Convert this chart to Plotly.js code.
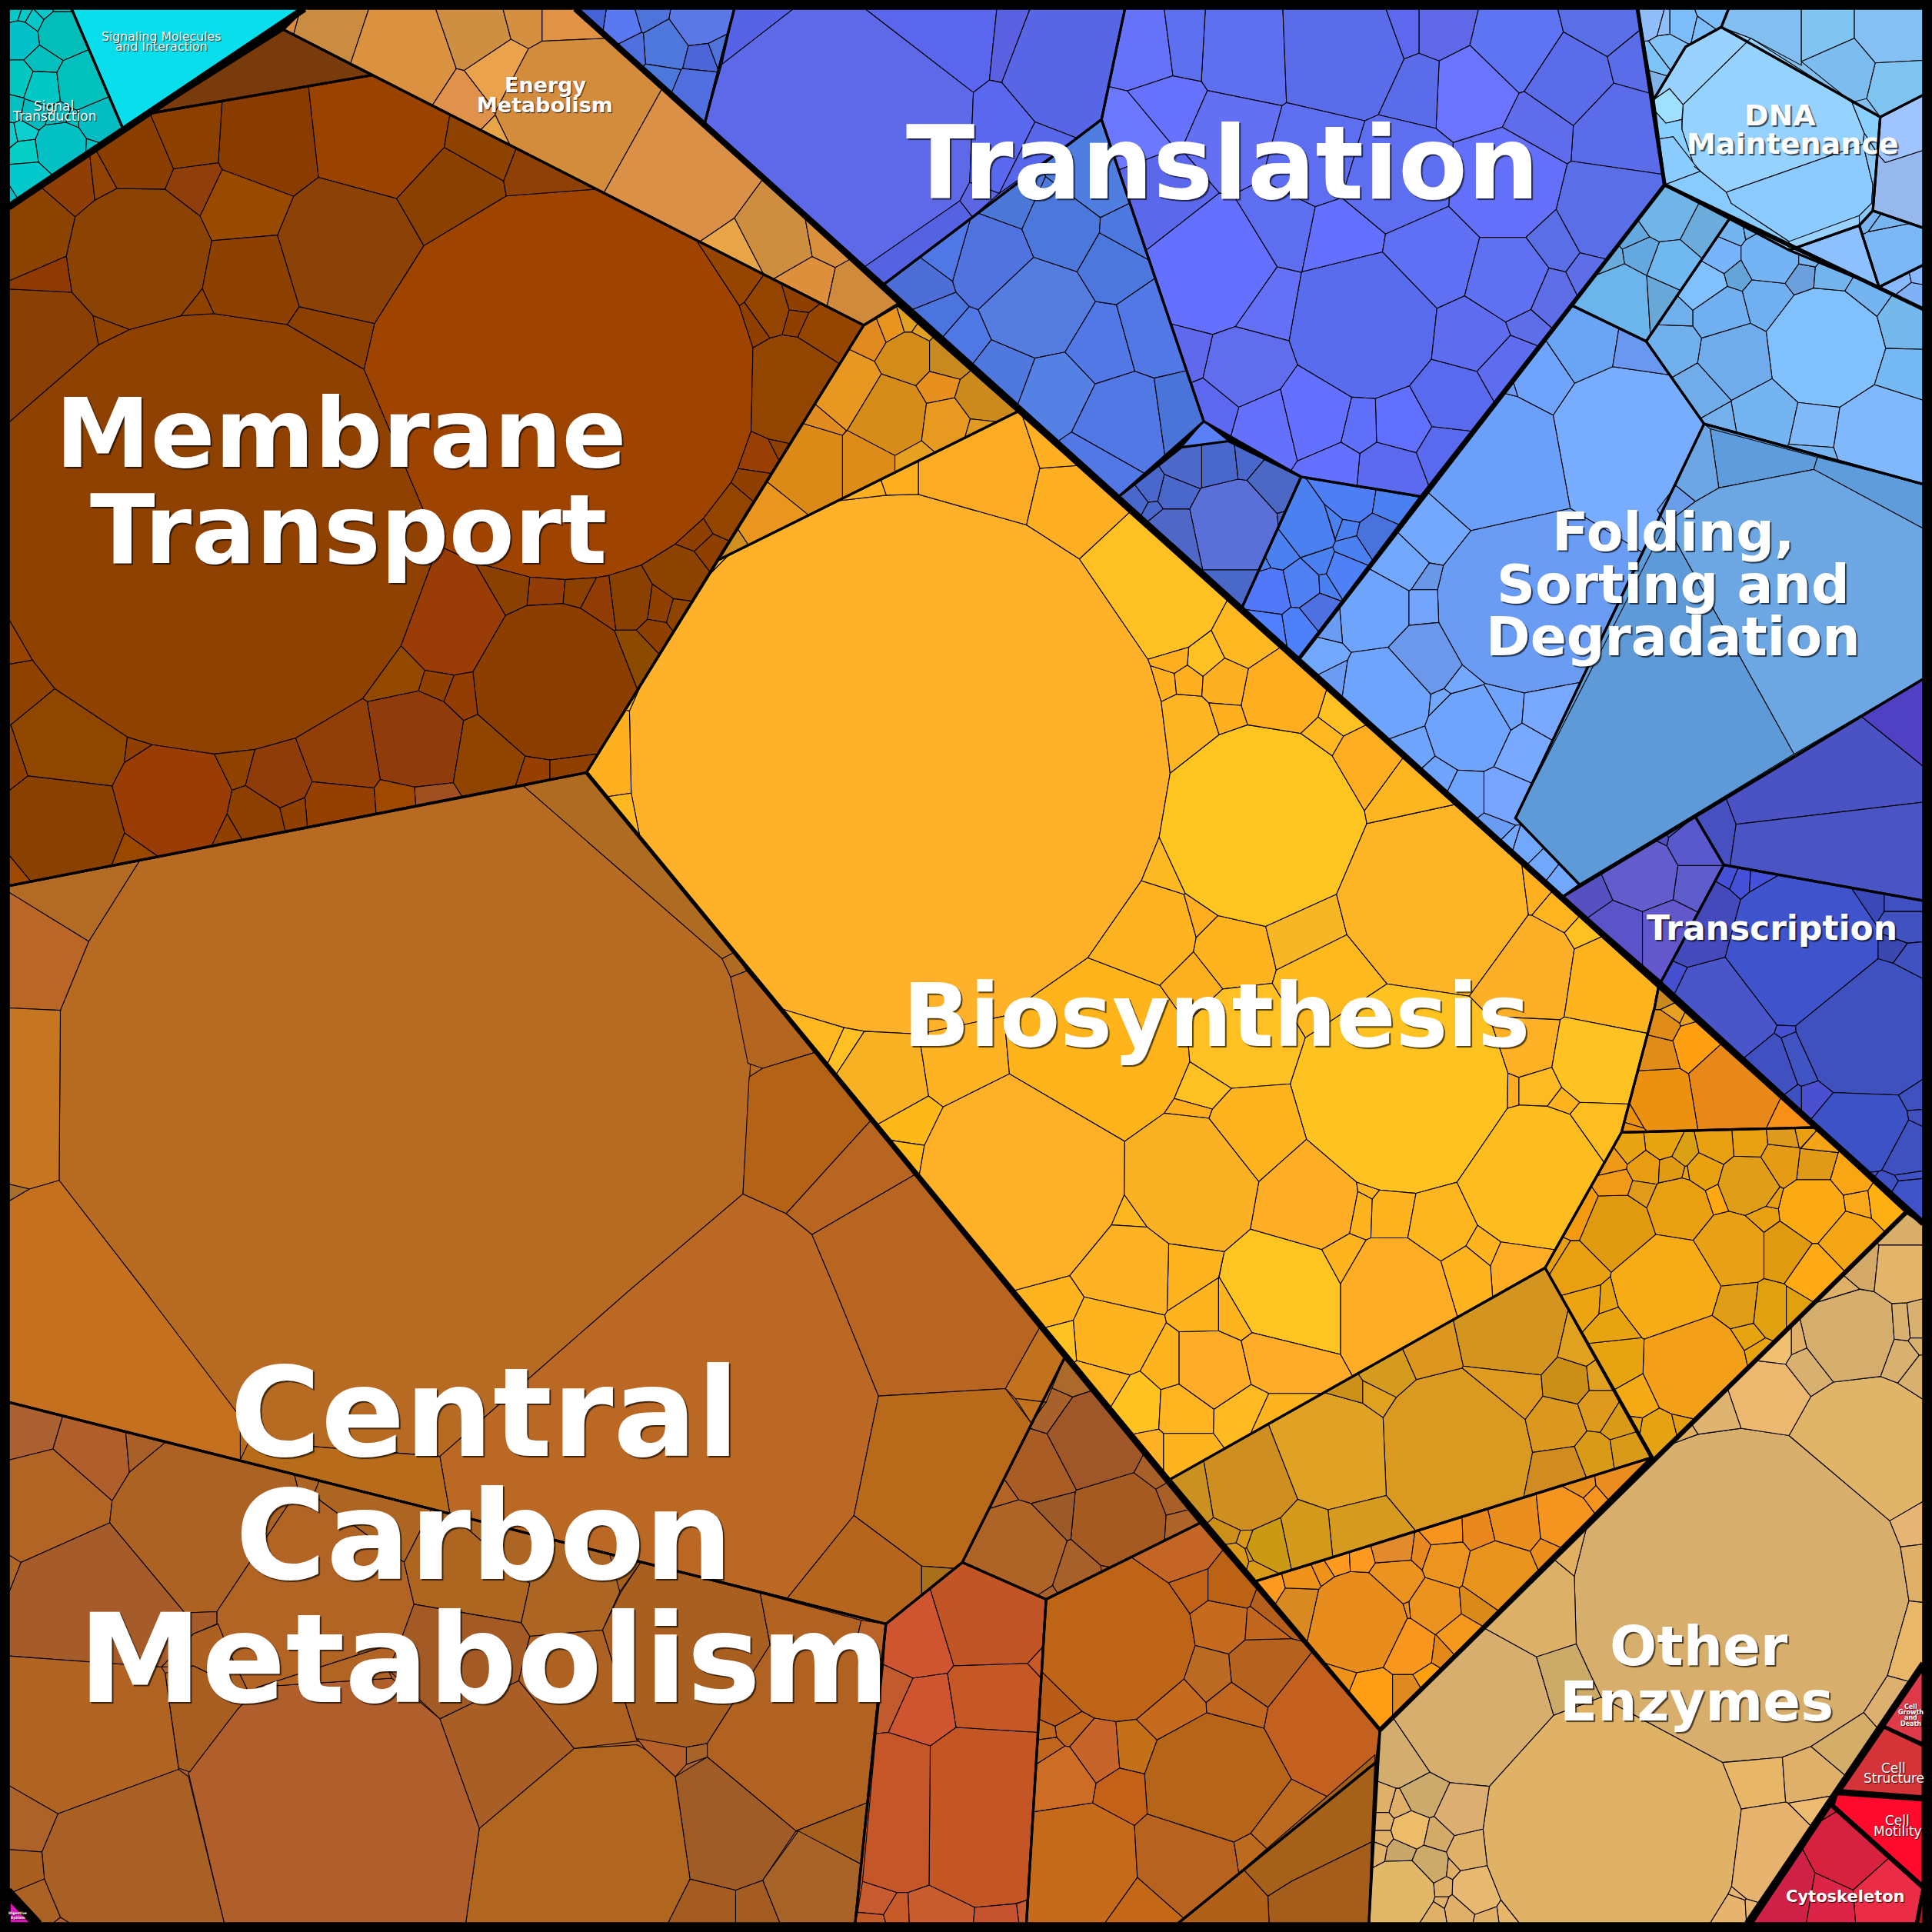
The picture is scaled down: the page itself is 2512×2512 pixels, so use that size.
<!DOCTYPE html>
<html><head><meta charset="utf-8">
<script src="https://cdn.plot.ly/plotly-3.0.1.min.js"></script>
<style>html,body{margin:0;padding:0;background:#000}#c{width:2512px;height:2512px}</style></head>
<body><div id="c"></div>
<script>
// Each region: outline polygon, plus sites as [x, y, inscribed radius, colour].
const signalOutline=[7,7,58,7,100,105,7,168];
const signalSites=[[50,27,18,'#02bdb8'],[17,31,13,'#02c0c8'],[35,50,10,'#03bfbd'],[17,65,11,'#02c8c0'],[34,71,14,'#00c8c4'],[67,67,20,'#02c0bc'],[11,89,8,'#04bfbf'],[27,92,10,'#03bcc0'],[80,98,16,'#03bdc2'],[50,119,20,'#02c0c4'],[21,123,8,'#05cec4'],[9,108,5,'#0bcfcf'],[19,106,7,'#0bcfcf'],[23,148,15,'#03c8cc'],[47,96,7,'#03c0c0'],[58,100,4,'#03c4c4'],[73,120,4,'#03c4c4'],[12,9,5,'#05c8c8'],[21,12,5,'#05c8c8'],[28,16,7,'#05c8c8'],[35,9,6,'#05c8c8'],[50,9,4,'#05c8c8'],[9,157,5,'#04c0c8']];
const membraneOutline=[7,168,122,92,302,61,701,264,476,627,7,719];
const membraneSites=[[172,433,178,'#8e4100'],[456,313,157,'#9e4300'],[112,209,57,'#8b4205'],[217,117,38,'#8a3c00'],[308,107,53,'#9a4200'],[282,203,55,'#8c4207'],[198,168,30,'#994a00'],[203,227,38,'#8e4000'],[158,149,17,'#8f3e0c'],[113,130,26,'#8a3f00'],[153,113,24,'#8c4000'],[362,157,36,'#8a4000'],[383,120,20,'#8e4200'],[443,143,14,'#8f4006'],[267,270,20,'#8c3f00'],[27,190,30,'#8c4200'],[62,150,15,'#8f3f05'],[80,148,8,'#914205'],[37,277,40,'#8a4005'],[40,220,14,'#8f3a05'],[160,247,8,'#8f4200'],[90,267,4,'#8f4200'],[365,505,42,'#993c07'],[444,480,13,'#933c08'],[413,477,14,'#8a4000'],[467,482,8,'#8c4000'],[488,493,14,'#923c05'],[512,490,18,'#8a4000'],[448,553,63,'#8c3e00'],[337,601,37,'#8f3b0b'],[277,611,32,'#923e08'],[397,611,26,'#8f4500'],[325,544,15,'#934800'],[357,554,9,'#8f4000'],[375,561,11,'#933d05'],[227,630,25,'#8f3c0a'],[193,621,10,'#8f4200'],[140,647,45,'#993c05'],[207,661,20,'#8c3f00'],[273,651,24,'#963f03'],[237,654,8,'#8f4000'],[327,647,10,'#a04800'],[342,646,5,'#a05020'],[437,624,6,'#963f00'],[457,624,8,'#8f4000'],[58,604,42,'#8f4600'],[50,671,48,'#8a4000'],[10,620,10,'#8f4000'],[17,554,18,'#8f4200'],[12,525,15,'#984300'],[117,611,5,'#8f4000'],[190,671,5,'#8f4000'],[107,694,5,'#9a4800'],[10,704,8,'#a04800'],[641,317,42,'#924500'],[587,227,18,'#964500'],[624,253,12,'#934400'],[671,270,20,'#964500'],[651,245,5,'#8f4000'],[649,260,4,'#8f4000'],[610,263,6,'#8f4000'],[617,370,12,'#993e05'],[591,417,16,'#934500'],[614,390,6,'#8f4000'],[565,433,5,'#8f4000'],[552,467,18,'#8c4200'],[534,493,12,'#8f4000'],[548,497,8,'#8f4500'],[531,510,8,'#8f4000'],[578,447,5,'#8f4000'],[631,363,4,'#8f4000'],[512,528,12,'#8c4a00']];
const wedgeOutline=[230,24,302,61,122,92];
const energyOutline=[247,7,467,7,730,247,701,264,230,24];
const energySites=[[267,30,30,'#ca8c40'],[327,50,44,'#da9240'],[385,30,30,'#cf8f42'],[423,20,15,'#d49040'],[457,20,15,'#e29244'],[403,57,28,'#eba24c'],[373,80,25,'#e0914c'],[460,87,55,'#d38b3c'],[555,140,42,'#da9147'],[633,197,22,'#cd8e40'],[671,190,12,'#da8f3c'],[652,230,14,'#dd8f3c'],[699,240,18,'#d08a3c'],[604,212,3,'#e8a548'],[241,23,10,'#da8a40'],[252,14,7,'#dea540'],[257,28,8,'#eba24c'],[407,113,5,'#e8a548']];
const amberOutline=[701,264,728,247,826,334,582,455];
const amberSites=[[709,273,8,'#e08a20'],[724,267,9,'#e8951e'],[737,263,5,'#e0a020'],[747,270,5,'#e0a020'],[737,290,20,'#d48c18'],[767,290,16,'#c88a20'],[761,313,12,'#e8901e'],[688,317,26,'#e89820'],[721,337,30,'#d68c18'],[767,343,18,'#e89a20'],[794,323,15,'#cc8a1c'],[791,350,3,'#e09a20'],[657,373,28,'#db8a18'],[702,373,20,'#dd8c1a'],[666,343,10,'#e08c20'],[741,373,5,'#e8a020'],[617,423,18,'#e8961e'],[596,437,4,'#d09020']];
const bioOutline=[476,627,582,455,826,334,1346,801,1343,817,1316,919,1254,1029,949,1201];
const bioSites=[[730,620,218,'#feb129'],[497,625,12,'#feb020'],[503,665,10,'#ffb81f'],[525,530,8,'#feba22'],[545,490,6,'#fec022'],[935,480,52,'#fec022'],[795,390,45,'#fbab24'],[867,407,28,'#ffb022'],[864,367,10,'#ffb022'],[724,390,3,'#feb020'],[704,397,10,'#feb020'],[574,467,10,'#fec022'],[664,841,14,'#ffb81f'],[688,852,6,'#fec022'],[717,871,32,'#f8b122'],[781,861,30,'#fdb322'],[741,914,10,'#feb818'],[737,941,9,'#feb818'],[891,851,70,'#feb41a'],[829,957,82,'#feb026'],[943,707,18,'#fdb922'],[927,757,42,'#fdb420'],[973,744,11,'#ffae20'],[1000,771,28,'#ffb31f'],[967,797,20,'#fcb020'],[1023,670,80,'#fec521'],[1062,756,30,'#f7b623'],[1163,730,75,'#feb525'],[1145,647,26,'#feb620'],[1108,620,24,'#feae20'],[1040,565,30,'#ffae20'],[961,591,26,'#fdb524'],[944,556,7,'#feb020'],[964,554,7,'#feb020'],[977,536,6,'#ffc022'],[994,556,15,'#feb023'],[992,581,9,'#feb020'],[951,534,6,'#feb020'],[1010,520,14,'#feb822'],[1073,600,8,'#ffb820'],[1088,580,8,'#fec022'],[1240,786,37,'#fbb027'],[1307,796,35,'#feb41f'],[1267,736,10,'#ffb420'],[1289,756,5,'#ffc022'],[1247,719,8,'#feb020'],[1237,852,20,'#ffb125'],[1294,862,30,'#fec322'],[1292,921,22,'#ffbe20'],[1247,885,14,'#feba22'],[1140,884,84,'#fec320'],[1082,796,38,'#feb91f'],[1008,841,38,'#fec022'],[1014,921,35,'#feb41f'],[978,888,8,'#fec022'],[973,906,6,'#ffae20'],[1062,975,40,'#ffae25'],[1103,983,14,'#feb41f'],[1131,984,20,'#feb41f'],[1169,991,27,'#feb61f'],[1244,955,58,'#febd1f'],[1111,968,4,'#feb41f'],[1224,885,8,'#ffae20'],[1264,898,5,'#feb41f'],[1088,1020,15,'#feb41f'],[1131,1045,40,'#ffad25'],[1204,1011,10,'#feb41f'],[1234,1024,20,'#ffad25'],[1191,1027,12,'#feb41f'],[1042,1045,43,'#fec522'],[967,958,52,'#fbb124'],[916,994,14,'#feb81f'],[957,1028,12,'#feb41f'],[914,1027,35,'#feb324'],[901,1085,30,'#feb41f'],[891,1122,20,'#ffb424'],[924,1142,20,'#fec320'],[961,1144,22,'#ffb420'],[1006,1145,18,'#feba20'],[984,1112,30,'#ffac28'],[1028,1102,20,'#ffad28'],[951,1112,14,'#feb41f'],[858,1065,6,'#feb41f'],[864,1088,12,'#fec322'],[931,1178,15,'#ffb024'],[961,1178,18,'#feb41f'],[983,1068,6,'#feb41f'],[1003,1068,14,'#feb41f'],[1028,1155,12,'#feb41f']];
const orangeOutline=[1346,801,1473,915,1316,919,1343,817];
const orangeSites=[[1408,882,35,'#e88818'],[1348,892,25,'#ec9010'],[1376,847,18,'#ffa012'],[1346,855,15,'#e08c18'],[1351,834,12,'#e08c18'],[1456,905,8,'#f89018'],[1358,824,7,'#e8a020'],[1351,809,6,'#c88a20'],[1326,905,8,'#ec9010'],[1371,830,6,'#e8a020'],[1323,915,3,'#ec9010']];
const goldOutline=[1316,919,1473,915,1547,984,1342,1184,1254,1029];
const goldSites=[[1313,998,28,'#e09a10'],[1363,981,25,'#e8a012'],[1418,961,23,'#e09e18'],[1404,1014,28,'#e8a014'],[1472,981,25,'#fbaa14'],[1449,1014,18,'#e09a10'],[1499,1004,20,'#f4a614'],[1472,1030,16,'#ffaa14'],[1507,976,9,'#f8a818'],[1530,973,12,'#feb012'],[1503,955,14,'#faa614'],[1472,946,14,'#e09a18'],[1446,943,15,'#e59c14'],[1419,928,12,'#e8a010'],[1393,930,13,'#e8a010'],[1366,936,10,'#daa014'],[1350,928,13,'#e8a410'],[1336,948,12,'#e89c14'],[1356,949,11,'#e09a14'],[1383,951,14,'#e8a210'],[1371,953,6,'#e8a210'],[1323,931,10,'#e8a412'],[1312,961,10,'#f09a18'],[1308,943,8,'#f09818'],[1333,968,9,'#e09a1c'],[1393,971,8,'#ffa810'],[1429,986,6,'#e8a010'],[1432,971,6,'#e8a010'],[1466,921,6,'#e8a010'],[1448,925,9,'#de9a1c'],[1474,928,8,'#f4a414'],[1280,1031,18,'#e8a010'],[1280,984,16,'#f49a10'],[1264,1021,5,'#e8a010'],[1353,1045,42,'#f7ac15'],[1375,1108,42,'#f3a018'],[1409,1062,18,'#e09e18'],[1436,1065,15,'#e0a010'],[1414,1083,12,'#e8a310'],[1423,1098,5,'#e8a310'],[1451,1065,6,'#e0a010'],[1313,1106,22,'#e8a410'],[1310,1078,16,'#e8a410'],[1287,1057,13,'#eca410'],[1303,1058,8,'#e8a410'],[1327,1131,17,'#f4aa14'],[1347,1165,16,'#e5a314'],[1363,1161,9,'#e49d10'],[1323,1161,8,'#e8a410']];
const olive=[949,1201,1254,1029,1340,1183,1017,1284];
const oliveSites=[[1181,1174,60,'#da9920'],[1082,1178,45,'#e0a224'],[1226,1081,42,'#d39520'],[1161,1095,20,'#dd9620'],[1125,1111,18,'#d49b1e'],[1221,1125,30,'#df9a20'],[1262,1156,22,'#da981e'],[1270,1121,18,'#cb8f18'],[1267,1191,18,'#d08c20'],[1297,1144,13,'#de9a1c'],[1293,1181,14,'#d99a18'],[1279,1093,14,'#e0a020'],[1297,1118,6,'#e0a020'],[1320,1177,10,'#d89a18'],[1313,1154,10,'#d89a18'],[1098,1243,22,'#d69a1e'],[1058,1247,25,'#d49a1c'],[1115,1131,8,'#e0a020'],[1095,1131,10,'#cc9018'],[1013,1205,38,'#cf8e20'],[972,1212,22,'#cb9120'],[1034,1252,22,'#ca9a14'],[997,1239,12,'#cc9018'],[1014,1245,10,'#d89a18'],[1021,1259,8,'#d89a18'],[1001,1265,10,'#d89a18'],[1024,1272,8,'#d89a18']];
const tangerineOutline=[1017,1284,1340,1183,1120,1404];
const tangerineSites=[[1102,1317,40,'#e88c1e'],[1217,1277,28,'#e8941c'],[1174,1267,18,'#ec9420'],[1163,1303,20,'#ec921e'],[1141,1336,22,'#f9961e'],[1133,1283,20,'#ec921e'],[1131,1257,16,'#e28b2c'],[1154,1260,9,'#e88820'],[1172,1244,14,'#f5941e'],[1203,1243,15,'#e8881e'],[1229,1237,22,'#ea8f1e'],[1269,1233,22,'#f5941e'],[1285,1204,8,'#e8901e'],[1310,1201,14,'#ea8c20'],[1295,1214,5,'#f5941e'],[1222,1214,8,'#f5941e'],[1257,1260,8,'#ea8e1e'],[1201,1300,12,'#d98a18'],[1184,1329,14,'#f5981e'],[1172,1340,8,'#e28818'],[1158,1363,8,'#ffa010'],[1142,1305,6,'#e8901e'],[1113,1373,18,'#ff9e14'],[1141,1373,12,'#de8a20'],[1088,1363,12,'#ee921a'],[1057,1307,18,'#d88a20'],[1027,1288,8,'#ff9a20'],[1058,1280,10,'#ee921a'],[1085,1265,8,'#ff9a20'],[1105,1264,7,'#ff9a20'],[1071,1274,5,'#ee921a']];
const carbonCells=[['#b66a22',[113,699,425,638,586,778,593,793,609,864,603,969,510,1048,357,1182,202,1170,117,1047,48,958,49,820,72,764]],['#b26a24',[7,719,113,699,72,764,7,724]],['#b96626',[7,724,72,764,49,820,7,818]],['#c67520',[7,818,49,820,48,958,24,965,7,961]],['#a8702a',[7,961,24,965,7,975]],['#c5701f',[7,975,24,965,48,958,117,1047,195,1150,195,1185,7,1138]],['#b06b22',[425,638,476,627,596,773,586,778]],['#b06b22',[586,778,593,793,606,788,596,773]],['#b46520',[593,793,606,788,662,854,619,867,607,863]],['#b46316',[608,874,619,867,662,854,707,909,638,985,603,969]],['#b96522',[662,854,596,773,707,909]],['#b96522',[707,909,743,953,659,1002,638,985]],['#bb6824',[603,969,638,985,659,1002,678,1047,713,1133,693,1230,639,1297,365,1228,357,1182,510,1048]],['#b96522',[659,1002,743,953,844,1077,816,1127,713,1133,678,1047]],['#b9691a',[816,1127,837,1155,781,1268,775,1273,748,1271,693,1230,713,1133]],['#b5651e',[693,1230,748,1271,748,1294,719,1318,639,1297]],['#a87018',[748,1271,775,1273,748,1294]],['#c2721c',[816,1127,844,1077,864,1102,849,1138,824,1135]],['#c2721c',[824,1135,849,1138,837,1155]],['#b86c1a',[202,1170,357,1182,365,1228,195,1185]]];
const carbonEdge=[7,719,476,627,864,1102,781,1268,719,1318,7,1138];
const carbonLowerCells=[['#aa6030',[7,1138,51,1149,43,1176,7,1185]],['#b05f2c',[51,1149,102,1162,105,1195,91,1218,43,1176]],['#a86028',[102,1162,135,1170,105,1195]],['#b26424',[7,1185,43,1176,91,1218,89,1236,17,1268,7,1262]],['#ab6222',[135,1170,239,1197,242,1209,176,1308,150,1309,89,1236,91,1218,105,1195]],['#ac6524',[239,1197,259,1202,255,1212,242,1209]],['#ac6622',[259,1202,350,1225,328,1268,260,1218,255,1212]],['#b26424',[260,1218,328,1268,336,1302,325,1332,210,1369,202,1374,188,1345,176,1318,176,1308,242,1209,255,1212]],['#ae6520',[350,1225,365,1228,430,1285,423,1317,336,1302,328,1268]],['#ac6522',[365,1228,500,1263,503,1292,489,1323,430,1328,423,1317,430,1285]],['#a86018',[495,1262,520,1268,503,1292]],['#a85f20',[520,1268,617,1293,625,1335,574,1415,557,1418,517,1413,489,1323,504,1292]],['#b16220',[617,1293,699,1315,696,1328,716,1348,711,1407,704,1463,646,1486,574,1426,574,1415,625,1335]],['#ba6328',[699,1315,719,1318,716,1348,696,1328]],['#a65f1c',[646,1486,704,1463,699,1513]],['#a86428',[648,1486,699,1513,694,1561,633,1561,619,1526]],['#a55c20',[619,1526,633,1561,597,1561,597,1534]],['#a65c20',[597,1534,597,1561,542,1561,560,1525]],['#a05c26',[548,1442,574,1426,646,1486,619,1526,597,1534,560,1525]],['#a86428',[557,1418,574,1415,574,1426,557,1432]],['#b46028',[517,1411,557,1418,557,1432,548,1442,524,1420]],['#b16620',[466,1419,517,1416,524,1420,548,1442,560,1525,542,1561,378,1561,389,1484]],['#a85e24',[357,1395,421,1364,466,1419,389,1484]],['#a45a24',[336,1302,423,1317,430,1328,421,1364,357,1395,315,1355,325,1332]],['#ad6222',[430,1328,489,1323,517,1413,466,1419,421,1364]],['#b05e2c',[193,1387,210,1369,318,1362,357,1395,389,1484,378,1561,182,1561,153,1439]],['#b26424',[210,1369,325,1332,315,1355,318,1362]],['#a65c2a',[89,1236,150,1309,176,1308,176,1318,157,1326,131,1353,100,1351,7,1344,7,1293,17,1268]],['#b06620',[7,1262,17,1268,7,1293]],['#ac6022',[157,1326,177,1318,188,1345,202,1374,157,1352,131,1353]],['#a85e20',[134,1358,157,1352,202,1374,210,1369,193,1387,154,1438,145,1435]],['#b16322',[7,1344,100,1351,131,1353,134,1358,145,1436,47,1472,7,1449]],['#a86024',[47,1472,145,1436,153,1442,182,1561,57,1561,49,1556,36,1525,34,1503]],['#ac6228',[7,1449,47,1472,34,1503,7,1502]],['#a95f20',[7,1501,34,1503,36,1525,7,1537]],['#ad6225',[7,1537,36,1525,49,1556,43,1561,32,1561]]];
const carbonLowerEdge=[7,1138,719,1318,694,1561,32,1561,7,1534];
const redCells=[['#c15525',[781,1268,849,1298,846,1337,834,1350,774,1352,755,1290]],['#cf5530',[755,1290,774,1352,769,1358,741,1362,717,1351,719,1318]],['#c15a2c',[717,1351,741,1362,721,1406,711,1407]],['#ce5530',[769,1358,776,1402,755,1417,721,1406,741,1362]],['#c65825',[774,1352,834,1350,845,1362,842,1406,776,1402,769,1358]],['#c85a28',[834,1350,846,1337,845,1362]],['#c45625',[776,1402,842,1406,834,1542,824,1545,791,1548,754,1530,755,1417]],['#c45628',[721,1406,755,1417,754,1530,737,1536,728,1536,700,1527,711,1407]],['#c85a30',[700,1527,728,1536,717,1554,696,1552]],['#c45a28',[717,1554,696,1552,694,1561,719,1561]],['#c65a28',[728,1536,737,1536,738,1561,719,1561,717,1554]],['#c95c2e',[737,1536,754,1530,791,1548,790,1561,738,1561]],['#c5532e',[791,1548,825,1545,827,1561,790,1561]],['#c75a30',[825,1545,834,1542,833,1561,827,1561]]];
const redEdge=[781,1268,849,1298,833,1561,694,1561,719,1318];
const sepiaOutline=[864,1102,974,1236,849,1298,781,1268];
const sepiaSites=[[888,1169,38,'#9f5628'],[908,1235,38,'#a55a22'],[844,1192,28,'#a95c24'],[824,1259,40,'#ae6426'],[854,1230,18,'#9c5a28'],[873,1275,20,'#a8602a'],[811,1215,10,'#b46426'],[858,1148,16,'#a8612a'],[871,1118,12,'#ab692c'],[951,1218,10,'#a86028'],[956,1238,10,'#ae6428'],[846,1293,4,'#a86028'],[938,1195,5,'#a86028'],[901,1272,5,'#a86028']];
const rustOutline=[849,1298,974,1236,1120,1404,1117,1430,956,1561,833,1561];
const rustSites=[[906,1332,62,'#bd6416'],[984,1445,52,'#b56418'],[958,1257,26,'#c56525'],[991,1318,22,'#c66a20'],[969,1288,16,'#c06218'],[997,1288,20,'#bc6214'],[1021,1353,23,'#b4621e'],[981,1357,18,'#bb6a24'],[1001,1382,14,'#c0661e'],[891,1422,20,'#c6642a'],[916,1420,14,'#c47018'],[909,1450,12,'#c46018'],[863,1442,22,'#cd6c24'],[857,1382,18,'#b85c18'],[868,1402,10,'#c0661c'],[951,1385,22,'#c66a1e'],[1075,1396,40,'#c4601f'],[874,1515,48,'#c56a1a'],[963,1510,40,'#b86220'],[926,1552,25,'#c46818'],[1014,1502,10,'#bb6a20'],[1033,1482,16,'#bb6a20'],[847,1405,8,'#c0661c'],[849,1420,10,'#c0661c'],[1034,1302,15,'#b4601c'],[1020,1320,12,'#c0661e']];
const umberCells=[['#a5601a',[1116,1424,1113,1495,1048,1527,1029,1539,1009,1517]],['#a55d1c',[1113,1495,1111,1561,1030,1561,1029,1539,1048,1527]],['#b06018',[1009,1517,1029,1539,1030,1561,956,1561]]];
const umberEdge=[1117,1430,1111,1561,956,1561];
const enzymeOutline=[1120,1404,1547,984,1561,993,1561,1350,1418,1561,1111,1561];
const enzymeSites=[[1413,1295,135,'#d7ae6b'],[1309,1489,105,'#dfb265'],[1194,1385,62,'#d8ae6e'],[1241,1300,38,'#ddb067'],[1512,1178,60,'#e1b568'],[1501,1086,36,'#d5ae6d'],[1437,1136,30,'#ecb870'],[1393,1151,16,'#dfb470'],[1469,1111,18,'#d8b070'],[1462,1095,7,'#e0b068'],[1442,1095,11,'#f0c070'],[1542,1101,14,'#d8b070'],[1544,1083,6,'#d8b070'],[1555,1082,5,'#d8b070'],[1555,1091,6,'#d8b070'],[1555,1111,9,'#d8b070'],[1548,1240,14,'#e6b474'],[1552,1273,18,'#dfb068'],[1545,1333,28,'#e8b868'],[1534,1373,8,'#ddb070'],[1426,1442,24,'#e7b666'],[1467,1439,22,'#deb06a'],[1436,1505,40,'#e7b26e'],[1472,1469,10,'#ecbb70'],[1489,1413,20,'#d4ae68'],[1406,1549,10,'#e6b46e'],[1411,1535,5,'#e6b46e'],[1423,1548,5,'#e6b46e'],[1262,1365,7,'#ccaa68'],[1274,1260,7,'#e0b060'],[1366,1168,5,'#e0b060'],[1138,1423,25,'#d3ad6e'],[1186,1471,20,'#dcae72'],[1156,1457,16,'#ccaa6c'],[1145,1485,15,'#ecbc68'],[1168,1490,13,'#d4aa68'],[1137,1503,11,'#c8a66c'],[1161,1513,15,'#ccaa6a'],[1193,1502,18,'#dfb068'],[1138,1535,26,'#e0b868'],[1199,1533,20,'#e6b870'],[1137,1467,8,'#e0b068'],[1123,1463,6,'#e0b068'],[1123,1479,6,'#e0b068'],[1123,1492,6,'#e0b068'],[1120,1500,4,'#e0b068'],[1171,1532,7,'#e0b068'],[1171,1545,5,'#e0b068'],[1184,1550,12,'#e0b068'],[1166,1553,8,'#e0b068'],[1230,1552,14,'#e8b66a'],[1207,1555,8,'#e0b068'],[1179,1515,7,'#e0b068'],[1490,1050,6,'#dfb068'],[1541,1001,12,'#d8ae6a'],[1512,1024,12,'#d4a866'],[1541,1027,18,'#e3b56b']];
const growthEdge=[1560.6,1354.5,1560.6,1415,1529,1401];
const structureEdge=[1529,1402,1560.6,1417,1560.6,1458,1494,1453];
const motilityEdge=[1491,1456,1560.6,1461,1560.6,1530,1488,1465];
const cytoCells=[['#c8203f',[1486,1465,1491,1470,1476,1479]],['#d6223f',[1491,1470,1533,1508,1504,1534,1473,1520,1463,1501,1476,1479]],['#cf2045',[1463,1501,1473,1520,1466,1561,1422,1561]],['#dc2448',[1473,1520,1504,1534,1506,1561,1466,1561]],['#ea2c46',[1504,1534,1533,1508,1560.6,1532,1555,1561,1506,1561]],['#a01818',[1560.6,1542,1560.6,1561,1557,1561]]];
const cytoEdge=[1486,1465,1560.6,1532,1555,1561,1422,1561];
const digestiveEdge=[7.7,1542,7.7,1561,25.6,1561];
const seaBlueOutline=[467,7,596,7,572,100];
const seaBlueSites=[[566,20,18,'#5b79e6'],[541,38,17,'#4f78dc'],[569,45,12,'#4c66d8'],[537,63,10,'#4c78dc'],[566,75,18,'#506ede'],[577,42,8,'#4e74dc'],[503,20,13,'#5a78f0'],[483,17,8,'#4563d8'],[513,40,8,'#5070e0'],[527,13,5,'#4e74dc']];
const indigoCells=[['#5e69e8',[586,52,644,7,702,7,790,75,787,148,779,163,701,217,572,100]],['#5763e6',[596,7,644,7,586,52]],['#5a66ee',[702,7,809,7,803,65,790,75]],['#5a60e0',[809,7,836,7,813,67,803,65]],['#5866e6',[836,7,913,7,894,97,874,112,840,99,813,67]],['#5a68f0',[803,65,813,67,840,99,811,157,787,148,790,75]],['#5866ea',[840,99,874,112,811,157]],['#5a66e4',[787,148,811,157,789,176,779,163]],['#5562e2',[701,217,779,163,789,176,717,231]]];
const indigoEdge=[596,7,913,7,894,97,717,231,572,100];
const azureOutline=[717,231,894,97,977,342,908,403];
const azureSites=[[841,250,42,'#557de0'],[806,213,34,'#5073e0'],[861,190,30,'#4c78dc'],[771,203,22,'#5077e6'],[821,172,12,'#4b78d8'],[854,315,30,'#5580e4'],[819,302,26,'#4e78de'],[751,230,18,'#4c6ed6'],[891,280,26,'#5278e8'],[938,267,28,'#5278e6'],[901,213,24,'#4c78de'],[912,193,18,'#4c78e0'],[891,150,20,'#4f7ee0'],[911,343,34,'#5278e6'],[954,337,20,'#4a74d8'],[894,373,22,'#5278e6'],[784,275,14,'#5078e4'],[761,255,14,'#4c74de'],[859,220,5,'#5a82f0']];
const violetOutline=[913,7,1329,7,1351,150,1153,403,1056,387,977,342,894,97];
const violetSites=[[1108,263,58,'#5a6cee'],[984,220,48,'#6470ff'],[1011,297,32,'#606eee'],[1031,343,26,'#6570fc'],[984,330,18,'#5d68f0'],[967,287,14,'#6068ee'],[1024,248,26,'#6470f6'],[934,43,24,'#6672fa'],[1011,43,35,'#5e70f0'],[948,85,22,'#6672fe'],[918,110,24,'#6c78ff'],[957,40,20,'#5d70f0'],[998,107,28,'#6470f4'],[937,160,32,'#5c68ec'],[1038,187,20,'#5e6ef0'],[1088,40,48,'#5a6cea'],[1171,23,18,'#6068e8'],[1135,23,15,'#5e68ee'],[1230,37,32,'#5f74f4'],[1300,20,20,'#5a6ee8'],[1196,72,30,'#6a74fe'],[1153,70,16,'#5a6cea'],[1274,66,32,'#5a6cea'],[1327,53,16,'#5a6ce8'],[1313,103,32,'#5a6cea'],[1303,172,36,'#5a6ee8'],[1221,152,42,'#6470fa'],[1251,99,20,'#5f6cec'],[1261,195,18,'#5a6ee6'],[1135,146,40,'#5e6ef0'],[1068,126,30,'#5e6ef0'],[1092,198,26,'#6470ff'],[1163,210,38,'#6070f4'],[1221,225,34,'#6070f2'],[1191,272,30,'#5e6cf0'],[1251,238,16,'#5e6ee8'],[1219,298,20,'#5e6cf0'],[1178,321,28,'#5a6aee'],[1138,343,22,'#6270ff'],[1103,344,15,'#6070fa'],[1173,364,18,'#5a6aee'],[1128,381,20,'#5c6af0'],[1083,377,12,'#6470ff'],[1065,335,30,'#6470ff'],[1236,255,8,'#5e6ee8'],[1292,218,5,'#5e6ee8']];
const slateOutline=[908,403,959,363,997,358,1056,387,1008,493];
const slateSites=[[1001,427,37,'#5a70d8'],[954,437,25,'#4f68c8'],[989,377,17,'#4a68cc'],[964,377,15,'#4f68cc'],[1008,375,10,'#4a68cc'],[1034,397,20,'#4a68c4'],[954,402,13,'#4a68cc'],[934,397,8,'#4a68cc'],[1001,472,14,'#4a68c8'],[921,407,8,'#4a68cc'],[936,415,4,'#4a68cc'],[1041,423,8,'#4a68cc']];
const tinyBlue=[977,342,997,358,959,363];
const cobaltOutline=[1056,387,1153,403,1054,535,1008,493];
const cobaltSites=[[1063,430,18,'#4a80f0'],[1097,406,16,'#4d7ef4'],[1128,411,10,'#4a80f0'],[1118,434,14,'#4a72dc'],[1098,447,8,'#4a80f0'],[1093,428,4,'#4a80f0'],[1091,464,13,'#4f80f8'],[1055,475,16,'#4f80f4'],[1072,457,7,'#4a80f0'],[1075,474,5,'#4a80f0'],[1068,493,10,'#4f70e0'],[1052,506,9,'#4f80fc'],[1082,424,5,'#4a80f0'],[1031,480,18,'#5078f8'],[1027,510,14,'#5080ff'],[1037,450,10,'#4a80f0'],[1024,457,5,'#4a80f0']];
const skyOutline=[1351,150,1404,177,1336,277,1276,248];
const skySites=[[1313,245,28,'#6cb4ec'],[1352,170,22,'#70b4e8'],[1383,186,14,'#6cacdc'],[1357,216,16,'#70b8f0'],[1345,243,15,'#68a8d8'],[1333,207,8,'#64a8e0'],[1300,212,12,'#68acdc'],[1325,189,4,'#64a8e0']];
const paleOutline=[1404,177,1561,251,1561,393,1383,344,1336,277];
const paleSites=[[1481,282,48,'#80c0fc'],[1410,291,30,'#70acec'],[1383,232,18,'#80c0fc'],[1399,255,22,'#70b0f0'],[1434,246,20,'#70b0f0'],[1438,209,22,'#74b4f4'],[1396,209,12,'#78b4fc'],[1409,225,8,'#64a4d8'],[1406,185,6,'#74b4f0'],[1423,182,5,'#74b4f0'],[1461,225,10,'#6ca0dc'],[1486,227,12,'#74b4ec'],[1512,243,14,'#74b4f0'],[1464,209,5,'#74b4f0'],[1543,265,18,'#74b8ec'],[1542,301,18,'#74b8f4'],[1433,334,24,'#74b4f0'],[1474,343,18,'#80b8f8'],[1526,351,36,'#7fb8fc'],[1380,318,20,'#70acea'],[1360,283,17,'#70b0ec'],[1393,341,10,'#74b0ec'],[1472,370,5,'#74b4f0'],[1361,255,4,'#70b0ec']];
const foldOutline=[1276,248,1336,277,1383,344,1230,664,1282,718,1268,728,1054,535];
const foldSites=[[1320,354,55,'#78acff'],[1211,374,55,'#6aa0fa'],[1237,490,70,'#6a9cf4'],[1287,278,24,'#6aa4f4'],[1247,305,20,'#6ea4fc'],[1330,285,18,'#6a98f0'],[1161,430,24,'#74a8fc'],[1135,457,22,'#72a8fc'],[1115,493,30,'#6ea4fc'],[1154,470,8,'#6a98e8'],[1154,493,14,'#72a4fc'],[1227,311,5,'#6a9cf4'],[1078,496,15,'#6a9cf4'],[1125,564,35,'#6ea4fc'],[1078,557,12,'#6a9cf4'],[1194,590,32,'#6ea4fc'],[1237,610,20,'#78a8ff'],[1141,608,14,'#6ea4fc'],[1173,569,9,'#72a8fc'],[1216,577,18,'#6ea4fc'],[1184,554,12,'#74a8ff'],[1158,534,28,'#6c98ec'],[1254,580,16,'#78a8ff'],[1221,647,18,'#76a4ff'],[1191,647,15,'#6ea4fc'],[1166,635,8,'#6ea4fc'],[1211,673,10,'#6a9cf4'],[1237,690,9,'#72a8fc'],[1224,686,5,'#72a8fc'],[1250,703,7,'#72a8fc'],[1267,716,6,'#72a8fc'],[1068,537,10,'#72a8fc']];
const steelCells=[['#5f9cdb',[1388,348,1475,371,1472,381,1395,396]],['#5f9cdb',[1475,371,1561,393,1561,429,1472,381]],['#6ca6e4',[1383,344,1388,348,1395,396,1376,407,1360,394]],['#6a9cec',[1360,394,1376,407,1352,425,1345,414]],['#6ca7e4',[1395,396,1472,381,1561,429,1561,551,1456,612,1352,425,1376,407]],['#5e9ad8',[1352,425,1456,612,1282,718,1230,664]]];
const steelEdge=[1383,344,1561,393,1561,551,1282,718,1230,664];
const transcriptACells=[['#4750c0',[1376,663,1401,648,1409,669,1404,703,1399,702]],['#4a52c4',[1401,648,1510,581,1561,622,1561,651,1409,669]],['#5040c4',[1510,581,1561,551,1561,622]],['#4a54c4',[1409,669,1561,651,1561,731,1404,703]]];
const transcriptAEdge=[1376,663,1561,551,1561,731,1399,702];
const purpleOutline=[1268,728,1376,663,1399,702,1348,797];
const purpleSites=[[1333,710,30,'#625ccc'],[1376,716,20,'#5f5ccc'],[1376,686,22,'#5958cc'],[1353,762,30,'#6258cc'],[1313,762,30,'#5a54c8'],[1347,680,5,'#5050c4'],[1363,670,12,'#5050c4'],[1290,729,16,'#5650c0']];
const royalOutline=[1399,702,1561,731,1561,993,1348,797];
const royalSites=[[1462,771,62,'#3f53cc'],[1515,836,58,'#3f50bf'],[1512,915,38,'#3d52c4'],[1399,819,42,'#4955c8'],[1380,749,34,'#4449bc'],[1439,868,24,'#4150c0'],[1467,858,24,'#4054c4'],[1542,931,24,'#3f50bf'],[1476,885,14,'#4a50d0'],[1459,839,8,'#4450d0'],[1542,749,12,'#3f52c0'],[1534,771,8,'#3a48b0'],[1545,779,5,'#3f52c0'],[1518,733,8,'#3a48b8'],[1542,733,10,'#4050c0'],[1403,709,4,'#4450d8'],[1413,713,4,'#4450d8'],[1429,714,6,'#4450d8'],[1552,893,8,'#3f50bf'],[1553,908,7,'#3f50bf'],[1547,971,15,'#3f52c8'],[1545,951,10,'#3f52c8'],[1530,961,12,'#3f50c4'],[1515,951,10,'#3f50c4'],[1358,799,8,'#4450d0'],[1452,885,10,'#3f50c0']];
const dnaCells=[['#9ad2ff',[1397,22,1421,31,1366,85,1355,72,1342,81,1368,38]],['#96d2ff',[1421,31,1503,83,1513,108,1512,117,1401,156,1375,135,1365,105,1366,85]],['#8ccbff',[1401,156,1512,117,1520,150,1519,165,1509,175,1452,196,1405,165]],['#8ad0ff',[1503,83,1526,95,1524,125,1513,108]],['#8cc8f8',[1513,108,1524,125,1520,171,1509,183,1509,175,1519,165,1520,150,1512,117]],['#a0e0ff',[1342,81,1355,72,1366,85,1365,97,1352,100,1343,90]],['#88d0ff',[1343,90,1352,100,1365,97,1365,105,1375,135,1358,111,1345,113]],['#8accff',[1345,113,1358,111,1375,133,1380,139,1351,150]],['#88ccff',[1380,139,1375,135,1401,156,1405,165,1452,196,1452,203,1351,150]]];
const dnaEdge=[1397,22,1526,95,1520,171,1509,183,1452,203,1351,150,1342,81,1368,38];
const dnaTopCells=[['#82bef0',[1413,7,1462,7,1462,53,1421,31,1397,22,1403,7]],['#80c4f2',[1462,7,1505,7,1505,31,1462,50]],['#7cbcee',[1462,50,1505,31,1522,51,1515,80,1503,83]],['#84c0f4',[1505,7,1561,7,1561,49,1522,51,1505,31]],['#7fc4f0',[1522,51,1561,49,1561,77,1526,95,1515,80]]];
const dnaTopEdge=[1403,7,1561,7,1561,77,1526,95,1397,22];
const dnaRightCells=[['#a0c4ff',[1526,95,1561,77,1561,122,1530,132,1524,125]],['#96b8ec',[1530,132,1561,122,1561,185,1520,171,1524,125]]];
const dnaRightEdge=[1526,95,1561,77,1561,185,1520,171];
const dnaLowOutline=[1509,183,1520,171,1561,185,1561,215,1525,233];
const dnaLowSites=[[1535,205,20,'#7cb8f8'],[1519,172,5,'#78b4f0'],[1530,180,4,'#78b4f0']];
const dnaBaseEdge=[1452,203,1509,183,1525,233];
const dnaTipEdge=[1525,233,1561,215,1561,251];
const dnaTipSites=[[1542,225,8,'#88b8ff'],[1552,238,6,'#80b0f8'],[1555,222,5,'#88b8ff']];
const dnaLeftOutline=[1329,7,1403,7,1397,22,1368,38,1342,81];
const dnaLeftSites=[[1366,20,12,'#7cbcf8'],[1341,17,8,'#90bef8'],[1386,13,6,'#7cbcf8'],[1343,50,10,'#7cc4f8'],[1355,41,12,'#84c4f8'],[1340,60,6,'#80b4e8'],[1379,23,8,'#7cbcf8'],[1352,20,6,'#90bef8']];
const plainRegions=[['#793b0c',wedgeOutline],['#09dfec',[58,7,247,7,100,105]],['#e03a4a',growthEdge],['#d43338',structureEdge],['#ff0a2c',motilityEdge],['#dd18bb',digestiveEdge],['#5a80f8',tinyBlue],['#8cc0ff',dnaBaseEdge]];
// Heavy dividing lines: [x0,y0,x1,y1,...], with stroke width
const heavyLines=[[[7,168,247,7],9],[[467,7,1561,993],8],[[1120,1404,1547,984],6],[[1561,1350,1418,1561],8],[[476,627,949,1201,1120,1404],5],[[1329,7,1351,150,1054,535],5],[[1351,150,1561,251],5],[[1486,1465,1560.6,1532],5],[[1529,1401,1560.6,1416],4],[[1494,1454,1560.6,1459],5],[[7,1534,32,1561],8]];
const labelText=['Translation','Membrane','Transport','Central','Carbon','Metabolism','Biosynthesis','Folding,','Sorting and','Degradation','Other','Enzymes','Transcription','DNA','Maintenance','Energy','Metabolism','Signaling Molecules','and Interaction','Signal','Transduction','Cytoskeleton','Cell','Motility','Cell','Structure','Cell','Growth','and','Death','Digestive','System'];
const labelX=[992,277,283,393,393,393,987,1358,1358,1358,1379,1377,1438,1445,1455,443,442,131,131,44,44,1498,1540,1540,1537,1537,1550.6,1550.6,1550.6,1550.6,14.5,14.5];
const labelBase=[162,380,458,1183,1283,1383,850,447,490,532,1352,1397,763,102,125,75,91,33,41,90,98,1544,1481,1490,1439,1447,1387,1391.5,1396,1401,1554,1557.5];
const labelSize=[131,124,124,161,161,161,114,69.5,69.5,69.5,72,72,44,38,38,27,27,15.7,15.7,17,17,21,17,17,17,17,8,8,8,8,4.5,4.5];
const labelBold=[1,1,1,1,1,1,1,1,1,1,1,1,1,1,1,1,1,0,0,0,0,1,0,0,0,0,1,1,1,1,1,1];

const toPts=f=>{const p=[];for(let i=0;i<f.length;i+=2)p.push([f[i],f[i+1]]);return p;};
function clip(poly,a,b,c){const out=[];for(let i=0;i<poly.length;i++){const p=poly[i],q=poly[(i+1)%poly.length],dp=a*p[0]+b*p[1]-c,dq=a*q[0]+b*q[1]-c;if(dp<=0)out.push(p);if((dp<0&&dq>0)||(dp>0&&dq<0)){const t=dp/(dp-dq);out.push([p[0]+t*(q[0]-p[0]),p[1]+t*(q[1]-p[1])]);}}return out;}
function powerCells(outline,sites){return sites.map((s,i)=>{let poly=toPts(outline);sites.forEach((o,j)=>{if(i===j||poly.length<3)return;const a=2*(o[0]-s[0]),b=2*(o[1]-s[1]),c=o[0]*o[0]+o[1]*o[1]-o[2]*o[2]-s[0]*s[0]-s[1]*s[1]+s[2]*s[2];poly=clip(poly,a,b,c);});return [s[3],poly];}).filter(c=>c[1].length>2);}
const traces=[];
function cell(color,pts,w){const x=pts.map(p=>p[0]),y=pts.map(p=>p[1]);x.push(x[0]);y.push(y[0]);traces.push({type:'scatter',mode:'lines',x,y,fill:'toself',fillcolor:color,line:{color:w?'#000':color,width:w},hoverinfo:'skip',showlegend:false});}
function edge(f,w,closed){const p=toPts(f);const x=p.map(q=>q[0]),y=p.map(q=>q[1]);if(closed){x.push(x[0]);y.push(y[0]);}traces.push({type:'scatter',mode:'lines',x,y,line:{color:'#000',width:w},hoverinfo:'skip',showlegend:false});}
const powerGroups=[[signalOutline,signalSites],[membraneOutline,membraneSites],[energyOutline,energySites],[amberOutline,amberSites],[bioOutline,bioSites],[orangeOutline,orangeSites],[goldOutline,goldSites],[olive,oliveSites],[tangerineOutline,tangerineSites],[sepiaOutline,sepiaSites],[rustOutline,rustSites],[enzymeOutline,enzymeSites],[seaBlueOutline,seaBlueSites],[azureOutline,azureSites],[violetOutline,violetSites],[slateOutline,slateSites],[cobaltOutline,cobaltSites],[skyOutline,skySites],[paleOutline,paleSites],[foldOutline,foldSites],[purpleOutline,purpleSites],[royalOutline,royalSites],[dnaLowOutline,dnaLowSites],[dnaTipEdge,dnaTipSites],[dnaLeftOutline,dnaLeftSites]];
const fixedGroups=[[carbonEdge,carbonCells],[carbonLowerEdge,carbonLowerCells],[redEdge,redCells],[umberEdge,umberCells],[cytoEdge,cytoCells],[indigoEdge,indigoCells],[steelEdge,steelCells],[transcriptAEdge,transcriptACells],[dnaEdge,dnaCells],[dnaTopEdge,dnaTopCells],[dnaRightEdge,dnaRightCells]];
powerGroups.forEach(g=>powerCells(g[0],g[1]).forEach(c=>cell(c[0],c[1],1.1)));
fixedGroups.forEach(g=>cell(g[1][0][0],toPts(g[0]),0));
fixedGroups.forEach(g=>g[1].forEach(c=>cell(c[0],toPts(c[1]),1.1)));
plainRegions.forEach(r=>cell(r[0],toPts(r[1]),1.1));
powerGroups.forEach(g=>edge(g[0],3.2,true));
fixedGroups.forEach(g=>edge(g[0],3.2,true));
plainRegions.forEach(r=>{if(r[1]!==tinyBlue)edge(r[1],3.2,true);});
heavyLines.forEach(h=>edge(h[0],h[1],false));
const annotations=labelText.map((t,i)=>({text:t,x:labelX[i],y:labelBase[i]-labelSize[i]*0.36/1.602,xref:'x',yref:'y',showarrow:false,xanchor:'center',yanchor:'middle',font:{family:'DejaVu Sans',weight:labelBold[i]?'bold':'normal',size:labelSize[i],color:'#fff',shadow:labelSize[i]>30?'2px 2px 1px rgba(0,0,0,0.65)':'1px 1px 1px rgba(0,0,0,0.85)'}}));
Plotly.newPlot('c',traces,{width:2512,height:2512,margin:{l:0,r:0,t:0,b:0},paper_bgcolor:'#000',plot_bgcolor:'#000',showlegend:false,
 xaxis:{range:[0,1568],visible:false,fixedrange:true},yaxis:{range:[1568,0],visible:false,fixedrange:true},annotations},{staticPlot:true,displayModeBar:false});
</script></body></html>
